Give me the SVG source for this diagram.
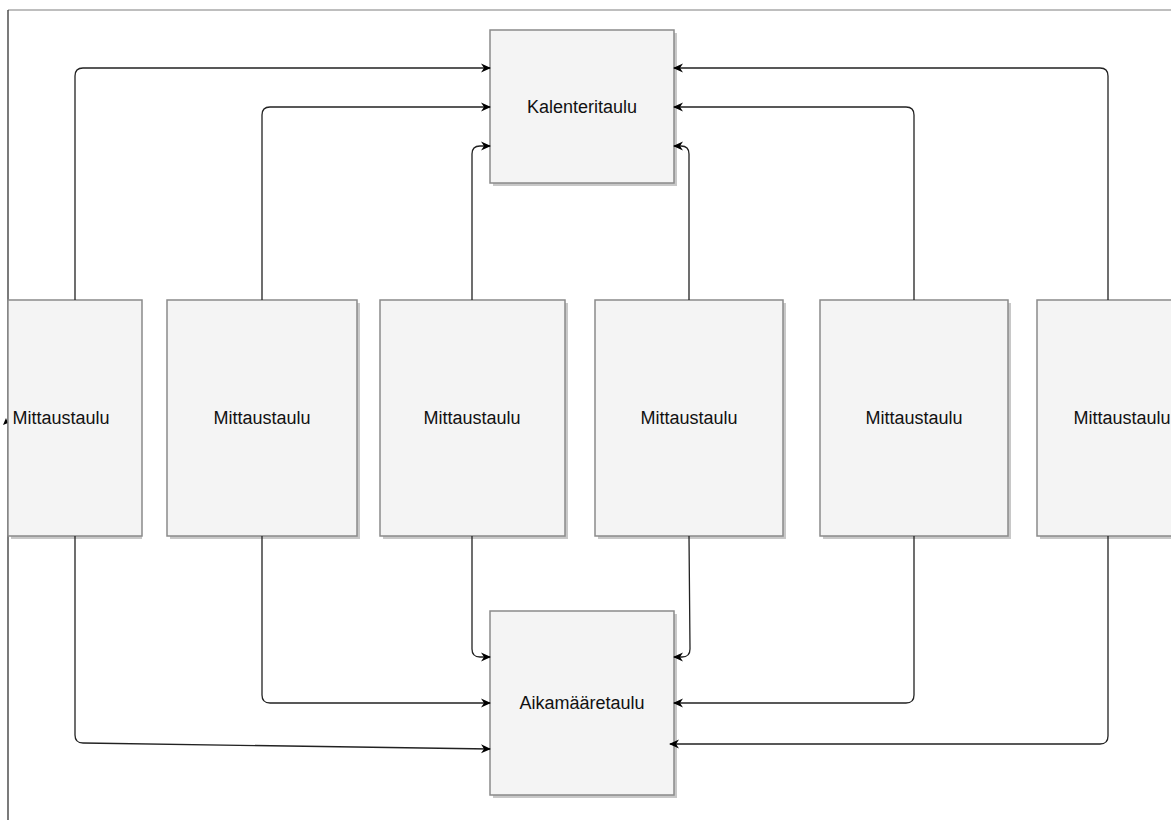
<svg xmlns="http://www.w3.org/2000/svg" width="1171" height="820" viewBox="0 0 1171 820">
  <defs>
    <marker id="arrow" viewBox="0 0 10 10" refX="9" refY="5" markerWidth="10" markerHeight="10" markerUnits="userSpaceOnUse" orient="auto">
      <path d="M0,0.5 L10,5 L0,9.5 L3,5 Z" fill="#000"/>
    </marker>
  </defs>
  <style>
    .box { fill: #f4f4f4; stroke: #8a8a8a; stroke-width: 1.5; }
    .shadow { fill: #9a9a9a; opacity: 0.55; }
    .label { font-family: "Liberation Sans", Arial, sans-serif; font-size: 18px; fill: #111; text-anchor: middle; dominant-baseline: central; }
    .edge { fill: none; stroke: #222; stroke-width: 1.3; marker-end: url(#arrow); }
  </style>
  <rect width="1171" height="820" fill="#fff"/>

  <!-- outer frame edges -->
  <line x1="8" y1="10" x2="1171" y2="10" stroke="#a8a8a8" stroke-width="1.5"/>
  <line x1="8" y1="10" x2="8" y2="820" stroke="#333" stroke-width="1.3"/>
  <path d="M3,425 L6,418 L8,423 Z" fill="#000"/>

  <!-- tables -->
  <g id="kalenteritaulu">
    <rect class="shadow" x="493" y="33" width="184" height="153"/>
    <rect class="box" x="490" y="30" width="184" height="153"/>
    <text class="label" x="582" y="107">Kalenteritaulu</text>
  </g>
  <g id="aikamaaretaulu">
    <rect class="shadow" x="493" y="614" width="184" height="184"/>
    <rect class="box" x="490" y="611" width="184" height="184"/>
    <text class="label" x="582" y="703">Aikamääretaulu</text>
  </g>

  <g id="mittaustaulu-1">
    <rect class="shadow" x="11" y="303" width="131" height="236"/>
    <rect class="box" x="8" y="300" width="134" height="236"/>
    <text class="label" x="61" y="418">Mittaustaulu</text>
  </g>
  <g id="mittaustaulu-2">
    <rect class="shadow" x="170" y="303" width="190" height="236"/>
    <rect class="box" x="167" y="300" width="190" height="236"/>
    <text class="label" x="262" y="418">Mittaustaulu</text>
  </g>
  <g id="mittaustaulu-3">
    <rect class="shadow" x="383" y="303" width="185" height="236"/>
    <rect class="box" x="380" y="300" width="185" height="236"/>
    <text class="label" x="472" y="418">Mittaustaulu</text>
  </g>
  <g id="mittaustaulu-4">
    <rect class="shadow" x="598" y="303" width="188" height="236"/>
    <rect class="box" x="595" y="300" width="188" height="236"/>
    <text class="label" x="689" y="418">Mittaustaulu</text>
  </g>
  <g id="mittaustaulu-5">
    <rect class="shadow" x="823" y="303" width="188" height="236"/>
    <rect class="box" x="820" y="300" width="188" height="236"/>
    <text class="label" x="914" y="418">Mittaustaulu</text>
  </g>
  <g id="mittaustaulu-6">
    <rect class="shadow" x="1040" y="303" width="190" height="236"/>
    <rect class="box" x="1037" y="300" width="190" height="236"/>
    <text class="label" x="1122" y="418">Mittaustaulu</text>
  </g>

  <!-- connectors -->
  <g id="connectors">
    <path class="edge" d="M75,300 V76 Q75,68 83,68 H490"/>
    <path class="edge" d="M262,300 V115 Q262,107 270,107 H490"/>
    <path class="edge" d="M472,300 V154 Q472,146 480,146 H490"/>
    <path class="edge" d="M689,300 V154 Q689,146 681,146 H674"/>
    <path class="edge" d="M914,300 V115 Q914,107 906,107 H674"/>
    <path class="edge" d="M1108,300 V76 Q1108,68 1100,68 H674"/>

    <path class="edge" d="M472,536 V649 Q472,657 480,657 H490"/>
    <path class="edge" d="M689,536 L690,649 Q690,657 682,657 H674"/>
    <path class="edge" d="M262,536 V695 Q262,703 270,703 H490"/>
    <path class="edge" d="M914,536 V695 Q914,703 906,703 H674"/>
    <path class="edge" d="M75,536 V735 Q75,743 83,743 L490,749"/>
    <path class="edge" d="M1108,536 V736 Q1108,744 1100,744 H670"/>
  </g>
</svg>
